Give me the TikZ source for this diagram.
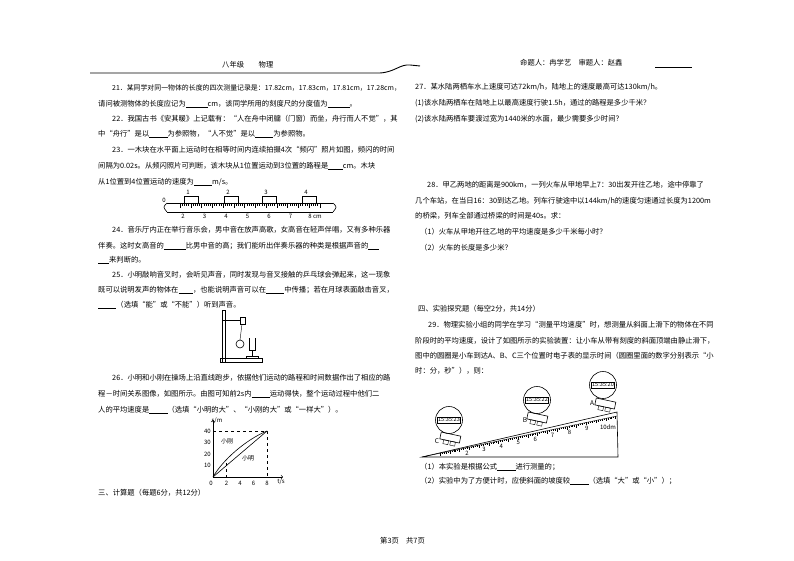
\documentclass[tikz,border=0pt]{standalone}
\usepackage{fontspec}
\setmainfont{Noto Sans CJK SC}
\begin{document}
\begin{tikzpicture}[x=1pt,y=-1pt,
  t/.style={anchor=west,inner sep=0,font=\fontsize{7.3}{9}\selectfont},
  s/.style={inner sep=0,font=\fontsize{6}{7}\selectfont},
  ln/.style={line width=0.6pt}]
\useasboundingbox (0,0) rectangle (794,561);
\fill[white] (0,0) rectangle (794,561);
% header
\draw[line width=0.9pt] (90,73) -- (380,73) .. controls (395,72) and (400,64) .. (410,65) -- (420,66);
\draw[line width=0.9pt] (655,67) -- (692,67);
\node[t] (h1) at (222,65) {八年级\quad\quad 物理};
\node[t] (h2) at (520,63) {命题人：冉学艺\quad 审题人：赵鑫};
% left column
\node[t,font=\fontsize{6.9}{9}\selectfont] (q21a) at (112,88) {21．某同学对同一物体的长度的四次测量记录是：17.82cm，17.83cm，17.81cm，17.28cm，};
\node[t] (q21b) at (98,104) {请问被测物体的长度应记为\underline{\hspace{3em}}cm，该同学所用的刻度尺的分度值为\underline{\hspace{3em}}。};
\node[t] (q22a) at (112,119) {22．我国古书《安其暖》上记载有：“人在舟中闭牖（门窗）而坐，舟行而人不觉”，其};
\node[t] (q22b) at (98,134) {中“舟行”是以\underline{\hspace{2.5em}}为参照物，“人不觉”是以\underline{\hspace{2.5em}}为参照物。};
\node[t] (q23a) at (112,150) {23．一木块在水平面上运动时在相等时间内连续拍摄4次“频闪”照片如图，频闪的时间};
\node[t] (q23b) at (98,166) {间隔为0.02s。从频闪照片可判断，该木块从1位置运动到3位置的路程是\underline{\hspace{2em}}cm。木块};
\node[t] (q23c) at (98,182) {从1位置到4位置运动的速度为\underline{\hspace{2.5em}}m/s。};
% ruler
\draw[ln] (167,203) -- (333,203) (167,212) -- (333,212);
\draw[ln] (167,203) .. controls (163,207) .. (167,212);
\draw[ln] (333,203) .. controls (337,207) .. (333,212);
\foreach \i in {0,...,65} {\draw[line width=0.3pt] ({180+\i*2.15},203) -- ({180+\i*2.15},{\i/5==int(\i/5)?208:206});}
\foreach \n [count=\k from 0] in {2,3,4,5,6,7} {\node[s] at ({183+\k*21.5},216) {\n};}
\node[s] (cm8) at (315,216) {8 cm};
\foreach \xx/\lab in {184/1,224/2,262/3,302/4} {\draw[ln] (\xx,203) rectangle (\xx+14,196); \node[s] at (\xx+4,192) {\lab};}
\node[s] at (164,200) {0};
% q24-25
\node[t] (q24a) at (112,230) {24．音乐厅内正在举行音乐会，男中音在放声高歌，女高音在轻声伴唱，又有多种乐器};
\node[t] (q24b) at (98,246) {伴奏。这时女高音的\underline{\hspace{3em}}比男中音的高；我们能听出伴奏乐器的种类是根据声音的\underline{\hspace{1.5em}}};
\node[t] (q24c) at (98,260) {\underline{\hspace{1.5em}}来判断的。};
\node[t] (q25a) at (112,275) {25．小明敲响音叉时，会听见声音，同时发现与音叉接触的乒乓球会弹起来，这一现象};
\node[t] (q25b) at (98,290) {既可以说明发声的物体在\underline{\hspace{2em}}，也能说明声音可以在\underline{\hspace{2.5em}}中传播；若在月球表面敲击音叉，};
\node[t] (q25c) at (98,305) {\underline{\hspace{2.5em}}（选填“能”或“不能”）听到声音。};
% apparatus
\draw[ln] (222,310) rectangle (225,362);
\draw[ln] (220,362) -- (262,362) -- (262,358) -- (220,358) -- cycle;
\draw[ln] (222,320) -- (240,320);
\draw[ln] (240,317) rectangle (245,324);
\draw[line width=0.4pt] (242,324) -- (240,340);
\draw[ln] (240,344) circle (4);
\draw[ln] (249,338) -- (249,350) -- (255,350) -- (255,338) (252,350) -- (252,356);
\draw[ln] (246,356) rectangle (258,358);
% q26
\node[t] (q26a) at (112,378) {26．小明和小刚在操场上沿直线跑步，依据他们运动的路程和时间数据作出了相应的路};
\node[t] (q26b) at (98,394) {程－时间关系图像，如图所示。由图可知前2s内\underline{\hspace{2.5em}}运动得快，整个运动过程中他们二};
\node[t] (q26c) at (98,410) {人的平均速度是\underline{\hspace{2.5em}}（选填“小明的大”、“小刚的大”或“一样大”）。};
% graph
\draw[ln,->] (213,477) -- (283,477);
\draw[ln,->] (213,477) -- (213,420);
\node[s] at (217,421) {s/m};
\node[s] at (281,482) {t/s};
\foreach \v/\lab in {1/10,2/20,3/30,4/40} {\node[s,anchor=east] at (211,{477-\v*11.5}) {\lab};}
\foreach \v/\lab in {1/2,2/4,3/6,4/8} {\node[s] at ({213+\v*13.5},483) {\lab};}
\node[s] at (211,483) {0};
\draw[dashed,line width=0.4pt] (213,431) -- (267,431) -- (267,477);
\draw[dashed,line width=0.4pt] (226.5,463) -- (226.5,477);
\draw[ln] (213,477) -- (267,431);
\draw[ln] (213,477) .. controls (222,461) and (245,440) .. (267,431);
\node[s] (xg) at (227,441) {小刚};
\node[s] (xm) at (248,458) {小明};
\node[t] (s3) at (98,493) {三、计算题（每题6分，共12分）};
\node[t] (foot) at (380,541) {第3页\quad 共7页};
% right column
\node[t] (q27a) at (415,87) {27．某水陆两栖车水上速度可达72km/h，陆地上的速度最高可达130km/h。};
\node[t] (q27b) at (415,103) {(1)该水陆两栖车在陆地上以最高速度行驶1.5h，通过的路程是多少千米？};
\node[t] (q27c) at (415,119) {(2)该水陆两栖车要渡过宽为1440米的水面，最少需要多少时间？};
\node[t] (q28a) at (427,185) {28．甲乙两地的距离是900km，一列火车从甲地早上7：30出发开往乙地，途中停靠了};
\node[t] (q28b) at (415,201) {几个车站，在当日16：30到达乙地。列车行驶途中以144km/h的速度匀速通过长度为1200m};
\node[t] (q28c) at (415,216) {的桥梁，列车全部通过桥梁的时间是40s。求：};
\node[t] (q28d) at (420,232) {（1）火车从甲地开往乙地的平均速度是多少千米每小时？};
\node[t] (q28e) at (420,248) {（2）火车的长度是多少米？};
\node[t] (s4) at (418,309) {四、实验探究题（每空2分，共14分）};
\node[t] (q29a) at (428,325) {29．物理实验小组的同学在学习“测量平均速度”时，想测量从斜面上滑下的物体在不同};
\node[t] (q29b) at (415,341) {阶段时的平均速度，设计了如图所示的实验装置：让小车从带有刻度的斜面顶端由静止滑下，};
\node[t] (q29c) at (415,356) {图中的圆圈是小车到达\textit{A}、\textit{B}、\textit{C}三个位置时电子表的显示时间（圆圈里面的数字分别表示“小};
\node[t] (q29d) at (415,371) {时：分，秒”），则：};
% incline
\draw[ln] (422,457) -- (618,457) -- (617,412) -- cycle;
\draw[line width=0.4pt] (422,457) -- (617,416);
\foreach \i in {0,...,90} {\draw[line width=0.3pt] ({440+\i*1.95},{453.2-\i*0.41}) -- ({440+\i*1.95},{453.2-\i*0.41+(\i/5==int(\i/5)?3:1.6)});}
\foreach \n [count=\k from 0] in {2,3,4,5,6,7,8,9} {\node[s] at ({467+\k*17.1},{453-\k*3.5}) {\n};}
\node[s] at (608,427) {10dm};
% carts and clocks
\foreach \cx/\cy/\nm/\tm/\kx/\ky/\lx/\ly in {605/405/A/15:35:20/603/385/592/403, 537/419/B/15:35:22/537/400/525/420, 450/439/C/15:35:23/449/420/437/441} {
  \draw[ln,rotate around={-12:(\cx,\cy)}] (\cx-10,\cy-5) rectangle (\cx+10,\cy+2);
  \draw[line width=0.4pt,rotate around={-12:(\cx,\cy)}] (\cx-6,\cy+2) rectangle (\cx-1,\cy+6) (\cx+1,\cy+2) rectangle (\cx+6,\cy+6);
  \draw[ln] (\kx,\ky) circle (13.5);
  \node[s,draw,line width=0.4pt,inner sep=0.7pt,font=\fontsize{5.6}{6}\selectfont] at (\kx,\ky) {\tm};
  \node[s,font=\fontsize{6.5}{7}\itshape] at (\lx,\ly) {\nm};
}
\node[t] (q291) at (420,467) {（1）本实验是根据公式\underline{\hspace{2.5em}}进行测量的；};
\node[t] (q292) at (420,481) {（2）实验中为了方便计时，应使斜面的坡度较\underline{\hspace{2.5em}}（选填“大”或“小”）；};
\end{tikzpicture}
\end{document}
